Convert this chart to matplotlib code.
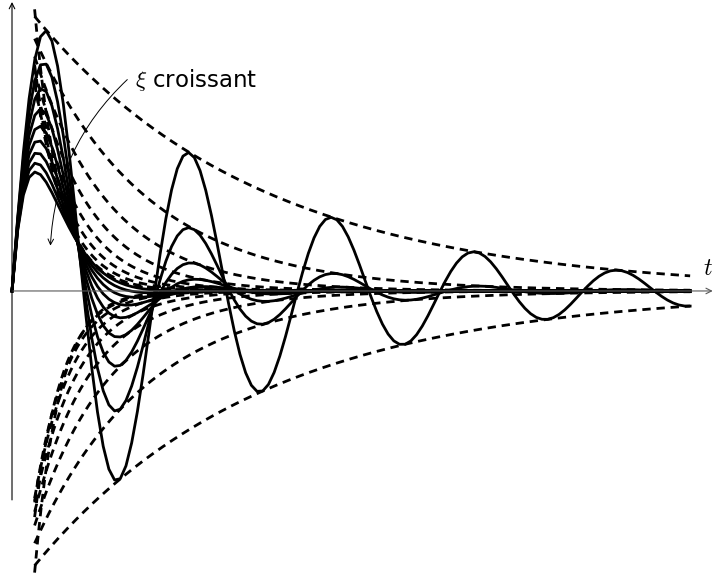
import numpy as np
import matplotlib.pyplot as plt

plt.rcParams['mathtext.fontset'] = 'cm'

# coefficients d'amortissement (une courbe + deux enveloppes par valeur)
xi_values = [0.1, 0.2, 0.3, 0.4, 0.5, 0.6, 0.7, 0.8, 0.9]
t_max = 30.0
t_env_start = 1.0
n_samples = 120

fig = plt.figure(figsize=(7.15, 5.73), dpi=100)
ax = fig.add_axes([0, 0, 1, 1])
ax.set_xlim(-0.531, 31.1)
ax.set_ylim(-0.934, 0.9636)
ax.axis('off')

t = np.linspace(0, t_max, n_samples)
te = np.linspace(t_env_start, t_max, 400)

# axes
ax.annotate('', xy=(31.0, 0), xytext=(0, 0),
            arrowprops=dict(arrowstyle='->', color='0.35', lw=0.8, shrinkA=0, shrinkB=0))
ax.annotate('', xy=(0, 0.957), xytext=(0, -0.692),
            arrowprops=dict(arrowstyle='->', color='black', lw=0.8, shrinkA=0, shrinkB=0))
ax.text(30.55, 0.035, '$t$', fontsize=17, ha='left', va='bottom')

# réponses impulsionnelles et enveloppes
for xi in xi_values:
    wd = np.sqrt(1 - xi**2)
    h = np.exp(-xi * t) * np.sin(wd * t) / wd
    env = np.exp(-xi * te) / wd
    ax.plot(te, env, color='black', lw=2.0, ls=(0, (3.0, 2.1)))
    ax.plot(te, -env, color='black', lw=2.0, ls=(0, (3.0, 2.1)))
    ax.plot(t, h, color='black', lw=2.0, solid_joinstyle='round')

# annotation
ax.text(5.45, 0.70, r'$\xi$ croissant', fontsize=16.5, ha='left', va='center',
        family='DejaVu Sans')
ax.annotate('', xy=(1.7, 0.15), xytext=(5.1, 0.70),
            arrowprops=dict(arrowstyle='->', color='black', lw=0.7,
                            connectionstyle='arc3,rad=0.2', shrinkA=0, shrinkB=0))

plt.savefig('out.png', dpi=100)
